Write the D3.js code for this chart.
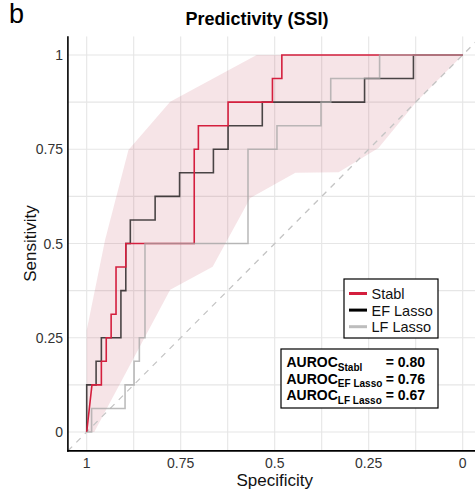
<!DOCTYPE html>
<html>
<head>
<meta charset="utf-8">
<script src="https://cdn.jsdelivr.net/npm/d3@7"></script>
<style>
  html, body { margin: 0; padding: 0; background: #fff; }
  svg { display: block; font-family: "Liberation Sans", Arial, sans-serif; }
</style>
</head>
<body>
<svg id="chart" width="475" height="495"></svg>
<script>
// ROC curves for SSI prediction, one per model
const models = ["Stabl", "EF Lasso", "LF Lasso"];
const modelColors = ["#D41F3E", "#000000", "#BDBDBD"];
const aurocValues = [0.80, 0.76, 0.67];

// ROC vertices (specificity, sensitivity)
const stablSpec = [1, 0.986, 0.961, 0.961, 0.948, 0.948, 0.935, 0.935, 0.922, 0.922, 0.896, 0.896, 0.714, 0.714, 0.703, 0.703, 0.624, 0.624, 0.506, 0.506, 0.481, 0.481, 0];
const stablSens = [0, 0.125, 0.125, 0.1875, 0.1875, 0.25, 0.25, 0.3125, 0.3125, 0.4375, 0.4375, 0.5, 0.5, 0.75, 0.75, 0.8125, 0.8125, 0.875, 0.875, 0.9375, 0.9375, 1, 1];

const efSpec = [1, 1, 0.975, 0.975, 0.961, 0.961, 0.909, 0.909, 0.896, 0.896, 0.884, 0.884, 0.818, 0.818, 0.753, 0.753, 0.663, 0.663, 0.624, 0.624, 0.533, 0.533, 0.261, 0.261, 0.131, 0.131, 0];
const efSens = [0, 0.125, 0.125, 0.1875, 0.1875, 0.25, 0.25, 0.375, 0.375, 0.5, 0.5, 0.5625, 0.5625, 0.625, 0.625, 0.6875, 0.6875, 0.75, 0.75, 0.8125, 0.8125, 0.875, 0.875, 0.9375, 0.9375, 1, 1];

const lfSpec = [1, 0.987, 0.987, 0.898, 0.898, 0.874, 0.874, 0.860, 0.860, 0.845, 0.845, 0.571, 0.571, 0.494, 0.494, 0.377, 0.377, 0.351, 0.351, 0.221, 0.221, 0];
const lfSens = [0, 0, 0.0625, 0.0625, 0.125, 0.125, 0.1875, 0.1875, 0.25, 0.25, 0.5, 0.5, 0.75, 0.75, 0.8125, 0.8125, 0.875, 0.875, 0.9375, 0.9375, 1, 1];

// Confidence band of the Stabl sensitivity
const ciUpperSpec = [1, 0.951, 0.889, 0.778, 0.548, 0];
const ciUpperSens = [0.27, 0.51, 0.748, 0.876, 1, 1];
const ciLowerSpec = [1, 0.98, 0.778, 0.665, 0.565, 0.445, 0.33, 0.224, 0.122, 0];
const ciLowerSens = [0, 0, 0.377, 0.438, 0.621, 0.6875, 0.689, 0.753, 0.877, 1];

const specTicks = [1, 0.75, 0.5, 0.25, 0];
const specTickLabels = ["1", "0.75", "0.5", "0.25", "0"];
const sensTicks = [0, 0.25, 0.5, 0.75, 1];
const sensTickLabels = ["0", "0.25", "0.5", "0.75", "1"];
const minorTicks = [0.125, 0.375, 0.625, 0.875];

const svg = d3.select("#chart");
const W = 475, H = 495;

const x = d3.scaleLinear().domain([1, 0]).range([86.7, 462.7]);
const y = d3.scaleLinear().domain([0, 1]).range([432, 55]);
const pad = 0.05;
const panel = {
  left: x(1 + pad), right: Math.min(W, x(0 - pad)),
  top: y(1 + pad), bottom: y(0 - pad)
};

svg.append("defs").append("clipPath").attr("id", "panel-clip")
  .append("rect")
  .attr("x", panel.left).attr("y", panel.top)
  .attr("width", panel.right - panel.left)
  .attr("height", panel.bottom - panel.top);

// grid
const grid = svg.append("g").attr("clip-path", "url(#panel-clip)");
const allTicks = specTicks.concat(minorTicks);
grid.selectAll("line.vx").data(allTicks).join("line")
  .attr("x1", d => x(d)).attr("x2", d => x(d))
  .attr("y1", panel.top).attr("y2", panel.bottom)
  .attr("stroke", "#E6E6E6").attr("stroke-width", 1.1);
grid.selectAll("line.hy").data(sensTicks.concat(minorTicks)).join("line")
  .attr("x1", panel.left).attr("x2", panel.right)
  .attr("y1", d => y(d)).attr("y2", d => y(d))
  .attr("stroke", "#E6E6E6").attr("stroke-width", 1.1);

const plot = svg.append("g").attr("clip-path", "url(#panel-clip)");

// confidence band
const upperPts = ciUpperSpec.map((s, i) => [s, ciUpperSens[i]]);
const lowerPts = ciLowerSpec.map((s, i) => [s, ciLowerSens[i]]).reverse();
const bandLine = d3.line().x(d => x(d[0])).y(d => y(d[1]));
plot.append("path")
  .attr("d", bandLine(upperPts.concat(lowerPts)) + "Z")
  .attr("fill", "rgb(185, 35, 60)").attr("fill-opacity", 0.12)
  .attr("stroke", "none");

// chance diagonal
plot.append("line")
  .attr("x1", x(1 + pad)).attr("y1", y(-pad))
  .attr("x2", x(-pad)).attr("y2", y(1 + pad))
  .attr("stroke", "#C4C4C4").attr("stroke-width", 1.3)
  .attr("stroke-dasharray", "6,6");

// ROC curves
const rocLine = d3.line().x(d => x(d[0])).y(d => y(d[1]));
const curves = [
  { name: "EF Lasso", spec: efSpec, sens: efSens, color: modelColors[1], op: 0.7 },
  { name: "Stabl", spec: stablSpec, sens: stablSens, color: modelColors[0], op: 1 },
  { name: "LF Lasso", spec: lfSpec, sens: lfSens, color: "#A6A6A6", op: 0.75 }
];
curves.forEach(c => {
  plot.append("path")
    .attr("d", rocLine(c.spec.map((s, i) => [s, c.sens[i]])))
    .attr("fill", "none").attr("stroke", c.color)
    .attr("stroke-opacity", c.op).attr("stroke-width", 1.6)
    .attr("stroke-linejoin", "miter");
});

// axis lines
svg.append("line")
  .attr("x1", panel.left).attr("x2", panel.left)
  .attr("y1", panel.top).attr("y2", panel.bottom + 0.8)
  .attr("stroke", "#000").attr("stroke-width", 1.6);
svg.append("line")
  .attr("x1", panel.left - 0.8).attr("x2", panel.right)
  .attr("y1", panel.bottom).attr("y2", panel.bottom)
  .attr("stroke", "#000").attr("stroke-width", 1.6);

// tick labels
svg.append("g").selectAll("text").data(specTicks).join("text")
  .attr("x", d => x(d)).attr("y", 468)
  .attr("text-anchor", "middle").attr("font-size", 14).attr("fill", "#333")
  .text((d, i) => specTickLabels[i]);
svg.append("g").selectAll("text").data(sensTicks).join("text")
  .attr("x", 63).attr("y", d => y(d) + 5)
  .attr("text-anchor", "end").attr("font-size", 14).attr("fill", "#333")
  .text((d, i) => sensTickLabels[i]);

// axis titles
svg.append("text")
  .attr("x", (panel.left + x(-pad)) / 2).attr("y", 486)
  .attr("text-anchor", "middle").attr("font-size", 17).attr("fill", "#111")
  .text("Specificity");
svg.append("text")
  .attr("transform", `translate(36, ${(panel.top + panel.bottom) / 2}) rotate(-90)`)
  .attr("text-anchor", "middle").attr("font-size", 17).attr("fill", "#111")
  .text("Sensitivity");

// title and panel letter
svg.append("text")
  .attr("x", 257).attr("y", 25)
  .attr("text-anchor", "middle").attr("font-size", 18).attr("font-weight", "bold")
  .text("Predictivity (SSI)");
svg.append("text")
  .attr("x", 9).attr("y", 23)
  .attr("font-size", 27)
  .text("b");

// legend
const leg = svg.append("g");
leg.append("rect")
  .attr("x", 344).attr("y", 279).attr("width", 94).attr("height", 59)
  .attr("fill", "#fff").attr("stroke", "#000").attr("stroke-width", 1.2);
models.forEach((m, i) => {
  const cy = 293.5 + i * 16.6;
  leg.append("line")
    .attr("x1", 349).attr("x2", 367).attr("y1", cy).attr("y2", cy)
    .attr("stroke", modelColors[i]).attr("stroke-width", 3);
  leg.append("text")
    .attr("x", 371.5).attr("y", cy + 5.5)
    .attr("font-size", 14.5).attr("fill", "#111")
    .text(m);
});

// AUROC annotation
const ann = svg.append("g");
ann.append("rect")
  .attr("x", 281).attr("y", 349).attr("width", 157).attr("height", 59)
  .attr("fill", "#fff").attr("stroke", "#000").attr("stroke-width", 1.2);
models.forEach((m, i) => {
  const by = 367 + i * 16.6;
  const t = ann.append("text")
    .attr("x", 286.5).attr("y", by)
    .attr("font-size", 14).attr("font-weight", "bold").attr("fill", "#000");
  t.append("tspan").text("AUROC");
  t.append("tspan").attr("font-size", 10).attr("dy", 3.5).text(m);
  ann.append("text")
    .attr("x", 425).attr("y", by)
    .attr("text-anchor", "end")
    .attr("font-size", 14).attr("font-weight", "bold").attr("fill", "#000")
    .text("= " + aurocValues[i].toFixed(2));
});
</script>
</body>
</html>
